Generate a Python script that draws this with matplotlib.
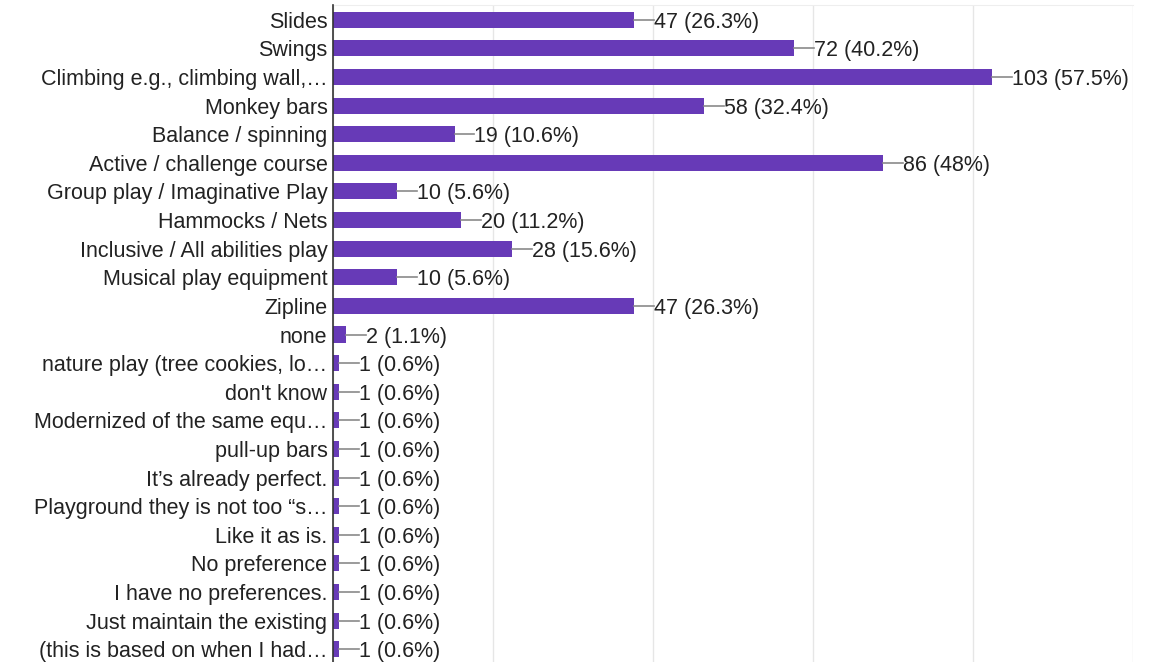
import matplotlib
matplotlib.use("Agg")
import matplotlib.pyplot as plt

categories = [
    "Slides", "Swings", "Climbing e.g., climbing wall,\u2026", "Monkey bars",
    "Balance / spinning", "Active / challenge course", "Group play / Imaginative Play",
    "Hammocks / Nets", "Inclusive / All abilities play", "Musical play equipment",
    "Zipline", "none", "nature play (tree cookies, lo\u2026", "don't know",
    "Modernized of the same equ\u2026", "pull-up bars", "It\u2019s already perfect.",
    "Playground they is not too \u201cs\u2026", "Like it as is.", "No preference",
    "I have no preferences.", "Just maintain the existing", "(this is based on when I had\u2026",
]
counts = [47, 72, 103, 58, 19, 86, 10, 20, 28, 10, 47, 2, 1, 1, 1, 1, 1, 1, 1, 1, 1, 1, 1]
percents = [26.3, 40.2, 57.5, 32.4, 10.6, 48, 5.6, 11.2, 15.6, 5.6, 26.3, 1.1,
            0.6, 0.6, 0.6, 0.6, 0.6, 0.6, 0.6, 0.6, 0.6, 0.6, 0.6]

plt.rcParams['font.family'] = ['Liberation Sans', 'DejaVu Sans']

fig = plt.figure(figsize=(11.71, 6.62), dpi=100)
ax = fig.add_axes([333/1171, 0.0, 800/1171, 1 - 5/662])

ypos = list(range(len(categories)))
ax.barh(ypos, counts, height=0.56, color="#673AB7", zorder=3)

xmax = 125
ax.set_xlim(0, xmax)
ax.set_ylim(len(categories) - 1 + 0.45, -0.52)
ax.set_xticks([0, 25, 50, 75, 100, 125])
ax.tick_params(axis='x', length=0, labelbottom=False)
ax.grid(axis='x', color="#e6e6e6", linewidth=1, zorder=0)
ax.set_yticks(ypos)
ax.set_yticklabels(categories, fontsize=15.5, color="#222222")
ax.tick_params(axis='y', length=0, pad=4)

for s in ['right', 'bottom']:
    ax.spines[s].set_visible(False)
ax.spines['top'].set_color("#eeeeee")
ax.spines['left'].set_color("#333333")
ax.spines['left'].set_linewidth(1.2)
ax.spines['left'].set_zorder(4)

lead = 3.1
for y, c, p in zip(ypos, counts, percents):
    ax.plot([c, c + lead], [y, y], color="#8a8a8a", linewidth=1.2, zorder=3)
    ax.text(c + lead, y, f"{c} ({p:g}%)", va='center_baseline', ha='left',
            fontsize=15.5, color="#222222", zorder=4)

fig.savefig("out.png", dpi=100)
